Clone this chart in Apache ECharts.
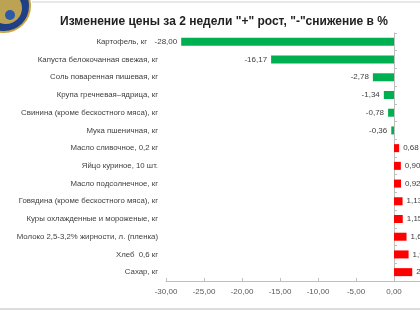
<!DOCTYPE html>
<html><head><meta charset="utf-8">
<script src="https://cdn.jsdelivr.net/npm/echarts@6/dist/echarts.min.js"></script>
<style>html,body{margin:0;padding:0;background:#fff}#c{width:420px;height:315px}</style>
</head><body><div id="c"></div>
<script>
var categories = ["Картофель, кг","Капуста белокочанная свежая, кг","Соль поваренная пишевая, кг","Крупа гречневая–ядрица, кг","Свинина (кроме бескостного мяса), кг","Мука пшеничная, кг","Масло сливочное, 0,2 кг","Яйцо куриное, 10 шт.","Масло подсолнечное, кг","Говядина (кроме бескостного мяса), кг","Куры охлажденные и мороженые, кг","Молоко 2,5-3,2% жирности, л. (пленка)","Хлеб  0,6 кг","Сахар, кг"];
var values = [-28.00,-16.17,-2.78,-1.34,-0.78,-0.36,0.68,0.90,0.92,1.13,1.15,1.65,1.92,2.40];
var xTicks = [-30,-25,-20,-15,-10,-5,0,5];
var title = 'Изменение цены за 2 недели "+" рост, "-"снижение в %';

var chart = echarts.init(document.getElementById('c'));
var font = 'Liberation Sans, Arial, sans-serif';
chart.setOption({
  animation:false,
  title:{text:title,left:219,textAlign:'center',top:11,textStyle:{fontFamily:font,fontSize:12,fontWeight:'bold',color:'#222'}},
  grid:{left:166,width:266,top:33,height:248,containLabel:false,outerBoundsMode:'none'},
  xAxis:{type:'value',min:xTicks[0],max:xTicks[xTicks.length-1],interval:5,
    axisLine:{show:true,onZero:false,lineStyle:{color:'#bfbfbf'}},
    axisTick:{show:true,inside:true,length:3,lineStyle:{color:'#bfbfbf'}},
    splitLine:{show:false},
    axisLabel:{fontFamily:font,fontSize:8,color:'#595959',margin:7,formatter:function(v){return v.toFixed(2).replace('.',',');}}},
  yAxis:[
    {type:'category',data:categories,inverse:true,
     axisLine:{show:true,onZero:true,lineStyle:{color:'#bfbfbf'}},
     axisTick:{show:true,inside:true,length:3,lineStyle:{color:'#bfbfbf'}},
     axisLabel:{show:false},splitLine:{show:false}},
    {type:'category',data:categories,inverse:true,position:'left',offset:0,
     axisLine:{show:false,onZero:false},axisTick:{show:false},
     axisLabel:{fontFamily:font,fontSize:7.8,color:'#404040',margin:8,
       formatter:function(v,i){return i===0?'{a|'+v+'}':v;},
       rich:{a:{fontFamily:font,fontSize:7.8,color:'#404040',padding:[0,11,0,0]}}}}
  ],
  series:[{type:'bar',yAxisIndex:0,barWidth:8,
    data:values.map(function(v){return {value:v,itemStyle:{color:v<0?'#00b050':'#ff0000'},
      label:{position:v<0?'left':'right'}};}),
    label:{show:true,fontFamily:font,fontSize:8,color:'#404040',distance:4,
      formatter:function(p){return p.value.toFixed(2).replace('.',',');}}}],
  graphic:[
    {type:'line',shape:{x1:32,y1:2,x2:420,y2:2},style:{stroke:'#d0d0d0',lineWidth:1}},
    {type:'line',shape:{x1:0,y1:309,x2:420,y2:309},style:{stroke:'#d0d0d0',lineWidth:1.5}},
    {type:'circle',shape:{cx:4,cy:6,r:26},style:{fill:'#1f3f86',stroke:'#c9a640',lineWidth:2}},
    {type:'circle',shape:{cx:6,cy:8,r:16},style:{fill:'#d8b44a',opacity:0.85}},
    {type:'circle',shape:{cx:10,cy:15,r:5},style:{fill:'#2a5aa8'}}
  ]
});
</script></body></html>
